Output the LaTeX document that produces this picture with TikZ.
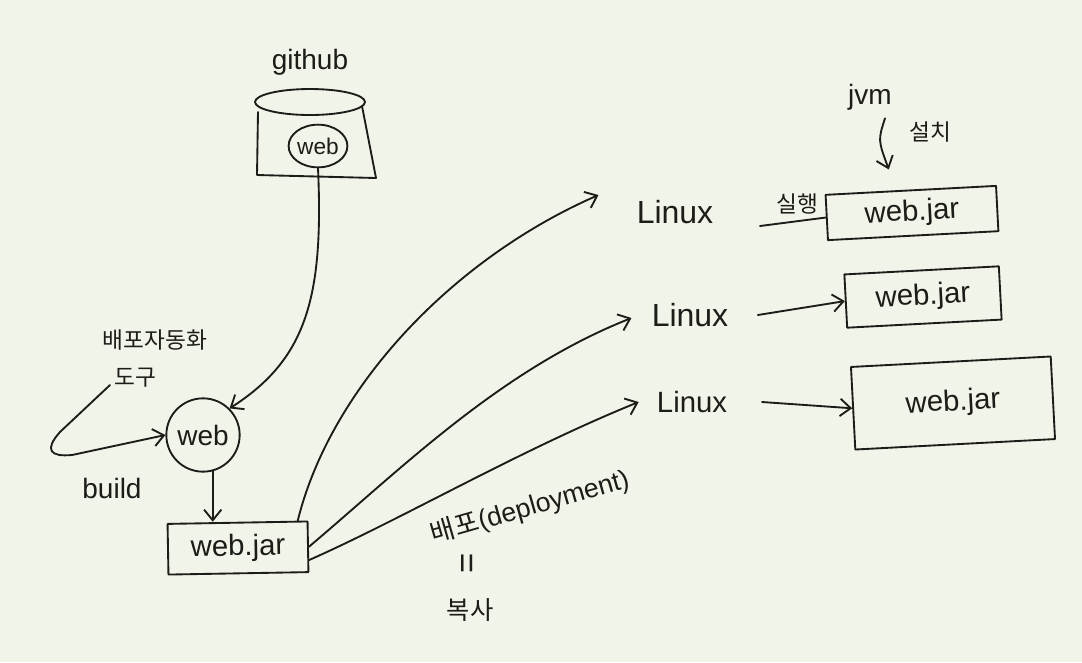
\documentclass[tikz,border=0pt]{standalone}
\usepackage{fontspec}
\setmainfont{Liberation Sans}
\newfontfamily\kr{Noto Sans CJK KR}
\usetikzlibrary{arrows.meta,shapes.geometric}
\definecolor{paper}{RGB}{241,244,232}
\definecolor{ink}{RGB}{28,28,24}
\begin{document}
\begin{tikzpicture}[x=0.75pt,y=-0.75pt,
  inkline/.style={draw=ink, line width=1.4pt, line cap=round, line join=round},
  arr/.style={inkline, -{Straight Barb[length=8pt,width=13pt,line width=1.4pt]}},
  lbl/.style={text=ink, inner sep=0pt, font=\fontsize{21}{23}\selectfont},
  jarbox/.style={inkline, rectangle, inner sep=0pt, text=ink, font=\fontsize{22}{24}\selectfont}]
\fill[paper] (0,0) rectangle (1082,662);
\useasboundingbox (0,0) rectangle (1082,662);

% github bucket
\node[lbl] (github) at (310,62) {github};
\draw[inkline] (310,102) ellipse [x radius=55, y radius=13];
\draw[inkline] (258,112) -- (257,175) -- (376,178) -- (362,106);
\node[ellipse, inkline, minimum width=42pt, minimum height=32pt, lbl, font=\fontsize{17}{19}\selectfont] (ghweb) at (318,146) {web};

% local web
\node[circle, inkline, minimum size=55pt, lbl] (web) at (203,435) {web};
\draw[arr] (ghweb.south) .. controls (324,300) and (305,360) .. (web.north east);

\node[lbl, font=\kr\fontsize{17}{19}\selectfont] (tool1) at (155,340) {배포자동화};
\node[lbl, font=\kr\fontsize{17}{19}\selectfont] (tool2) at (135,378) {도구};
\coordinate (loopstart) at (110,385);
\draw[arr] (loopstart) -- (60,432) .. controls (44,450) and (50,457) .. (72,455) -- (web.west);
\node[lbl] (build) at (112,488) {build};

% web.jar
\node[jarbox, minimum width=105pt, minimum height=38pt, rotate=1] (jar0) at (238,548) {web.jar};
\draw[arr] (web.-75) -- (web.-75 |- jar0.north);

% Linux nodes
\node[lbl, font=\fontsize{24}{26}\selectfont] (lin1) at (675,212) {Linux};
\node[lbl, font=\fontsize{24}{26}\selectfont] (lin2) at (690,315) {Linux};
\node[lbl, font=\fontsize{22}{24}\selectfont] (lin3) at (692,402) {Linux};

\draw[arr] ([xshift=-8pt]jar0.north east) .. controls (330,390) and (450,260) .. ([shift={(-38,-17)}]lin1.west);
\draw[arr] (jar0.east) .. controls (400,470) and (500,370) .. ([shift={(-20,3)}]lin2.west);
\draw[arr] ([yshift=-10pt]jar0.east) .. controls (400,520) and (520,450) .. ([shift={(-18,0)}]lin3.west);

% deployment label
\node[lbl, rotate=16, font=\fontsize{20}{22}\selectfont] (deploy) at (530,507) {{\kr 배포}(deployment)};
\node[lbl, rotate=90, font=\fontsize{26}{28}\selectfont] (eq) at (470,563) {=};
\node[lbl, font=\kr\fontsize{19}{21}\selectfont] (copy) at (470,610) {복사};

% target jars
\node[jarbox, minimum width=128pt, minimum height=34pt, rotate=3] (jar1) at (912,213) {web.jar};
\node[jarbox, minimum width=116pt, minimum height=40pt, rotate=3] (jar2) at (923,297) {web.jar};
\node[jarbox, minimum width=150pt, minimum height=62pt, rotate=3] (jar3) at (953,403) {web.jar};

\coordinate (runstart) at (760,226);
\draw[inkline] (runstart) -- (jar1.west);
\node[lbl, font=\kr\fontsize{17}{19}\selectfont] (run) at (797,204) {실행};
\draw[arr] ([xshift=22pt]lin2.east) -- (jar2.west);
\draw[arr] ([xshift=26pt]lin3.east) -- (jar3.west);

% jvm
\node[lbl] (jvm) at (870,97) {jvm};
\draw[arr] ([shift={(15,8)}]jvm.south) .. controls (878,140) .. ([shift={(-22,-20)}]jar1.north);
\node[lbl, font=\kr\fontsize{17}{19}\selectfont] (install) at (930,132) {설치};
\end{tikzpicture}
\end{document}
